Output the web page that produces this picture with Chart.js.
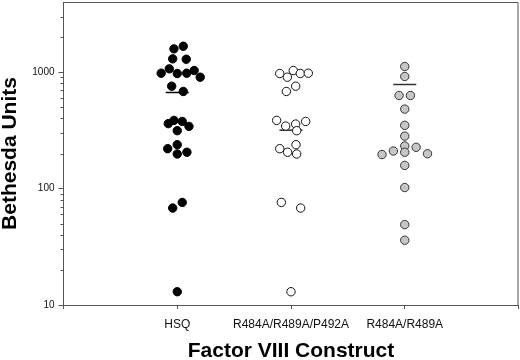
<!DOCTYPE html>
<html>
<head>
<meta charset="utf-8">
<script src="https://cdn.jsdelivr.net/npm/chart.js@4"></script>
<style>
  html, body { margin: 0; padding: 0; background: #fff; }
  #wrap { width: 520px; height: 360px; }
</style>
</head>
<body>
<div id="wrap"><canvas id="myChart"></canvas></div>
<script>
var categories = ['HSQ', 'R484A/R489A/P492A', 'R484A/R489A'];

// Bethesda units, with the horizontal spread of each dot
var hsqValues = [1667, 1584, 1300, 1290, 979, 1067, 973, 979, 1032, 904, 757, 682,
  361, 385, 377, 342, 314, 220, 238, 198, 205, 68, 76, 13];
var hsqSpread = [0.053, -0.029, -0.04, 0.079, -0.141, -0.07, 0, 0.083, 0.149, 0.202, -0.049, 0.053,
  -0.079, -0.029, 0.044, 0.103, 0, -0.084, 0, 0, 0.085, -0.04, 0.044, 0];

var tripleValues = [973, 904, 1032, 973, 979, 757, 682, 385, 344, 358, 377, 314,
  220, 205, 238, 198, 76, 68, 13];
var tripleSpread = [-0.099, -0.032, 0.02, 0.082, 0.152, 0.041, -0.041, -0.126, -0.047, 0.041, 0.129, 0.05,
  -0.099, -0.03, 0.044, 0.05, -0.085, 0.085, 0];

var doubleValues = [1117, 917, 630, 630, 481, 349, 282, 232, 226, 210, 205, 196, 199, 158, 102, 49, 36];
var doubleSpread = [0, 0, -0.05, 0.05, 0, 0, 0, 0, 0.1, -0.1, 0, -0.2, 0.2, 0, 0, 0, 0];

var meanValues = [668, 318, 783];

var yMajorTicks = [10, 100, 1000];
var yMinorTicks = [20, 30, 40, 50, 60, 70, 80, 90, 200, 300, 400, 500, 600, 700, 800, 900, 2000, 3000];

function points(values, spread, group) {
  return values.map(function (v, i) { return { x: group + spread[i], y: v }; });
}

var axisColor = '#555';

// box round the plot and short minor ticks on the log axis
var framePlugin = {
  id: 'frame',
  afterDraw: function (chart) {
    var a = chart.chartArea;
    var ctx = chart.ctx;
    var y = chart.scales.y;
    ctx.save();
    ctx.strokeStyle = axisColor;
    ctx.lineWidth = 1;
    ctx.beginPath();
    ctx.moveTo(a.left, a.top + 0.5);
    ctx.lineTo(a.right - 0.5, a.top + 0.5);
    ctx.lineTo(a.right - 0.5, a.bottom);
    ctx.stroke();
    yMinorTicks.forEach(function (v) {
      var py = Math.round(y.getPixelForValue(v)) + 0.5;
      ctx.beginPath();
      ctx.moveTo(a.left - 3, py);
      ctx.lineTo(a.left, py);
      ctx.stroke();
    });
    ctx.restore();
  }
};

var ctx = document.getElementById('myChart').getContext('2d');

var myChart = new Chart(ctx, {
  type: 'scatter',
  data: {
    datasets: [
      {
        label: categories[0],
        data: points(hsqValues, hsqSpread, 1),
        backgroundColor: '#000',
        borderColor: '#000',
        borderWidth: 1,
        pointRadius: 4.2
      },
      {
        label: categories[1],
        data: points(tripleValues, tripleSpread, 2),
        backgroundColor: '#fff',
        borderColor: '#111',
        borderWidth: 1,
        pointRadius: 4.2
      },
      {
        label: categories[2],
        data: points(doubleValues, doubleSpread, 3),
        backgroundColor: '#c6c6c6',
        borderColor: '#333',
        borderWidth: 1,
        pointRadius: 4.2
      },
      {
        label: 'Mean',
        data: meanValues.map(function (v, i) { return { x: i + 1, y: v }; }),
        pointStyle: 'line',
        pointRadius: 11.5,
        borderColor: ['#000', '#000', '#333'],
        borderWidth: 1.3
      }
    ]
  },
  options: {
    responsive: true,
    maintainAspectRatio: false,
    animation: false,
    events: [],
    layout: { autoPadding: false, padding: { left: 0, right: 1.5, top: 2, bottom: 0 } },
    plugins: {
      legend: { display: false },
      tooltip: { enabled: false }
    },
    scales: {
      x: {
        type: 'linear',
        min: 0,
        max: 4,
        afterBuildTicks: function (scale) {
          scale.ticks = [0, 1, 2, 3, 4].map(function (v) { return { value: v }; });
        },
        afterFit: function (scale) {
          scale.height = 55;
          scale.paddingLeft = 0;
          scale.paddingRight = 0;
        },
        ticks: {
          autoSkip: false,
          maxRotation: 0,
          padding: 8,
          color: '#111',
          font: { family: 'Liberation Sans', size: 12 },
          callback: function (v) { return categories[v - 1] || ''; }
        },
        grid: { drawOnChartArea: false, drawTicks: true, tickLength: 4, tickColor: axisColor },
        border: { color: axisColor, width: 1 },
        title: {
          display: true,
          text: 'Factor VIII Construct',
          color: '#000',
          padding: { top: 8, bottom: -2 },
          font: { family: 'Liberation Sans', size: 21, weight: 'bold', lineHeight: 1 }
        }
      },
      y: {
        type: 'logarithmic',
        min: 10,
        max: 4000,
        afterBuildTicks: function (scale) {
          scale.ticks = yMajorTicks.map(function (v) { return { value: v }; });
        },
        afterFit: function (scale) {
          scale.width = 63.5;
          scale.paddingTop = 0;
          scale.paddingBottom = 0;
        },
        ticks: {
          padding: 4,
          color: '#111',
          font: { family: 'Liberation Sans', size: 10 },
          callback: function (v) { return String(v); }
        },
        grid: { drawOnChartArea: false, drawTicks: true, tickLength: 5, tickColor: axisColor },
        border: { color: axisColor, width: 1 },
        title: {
          display: true,
          text: 'Bethesda Units',
          color: '#000',
          padding: { top: 0, bottom: 11 },
          font: { family: 'Liberation Sans', size: 21, weight: 'bold', lineHeight: 1 }
        }
      }
    }
  },
  plugins: [framePlugin]
});
</script>
</body>
</html>
